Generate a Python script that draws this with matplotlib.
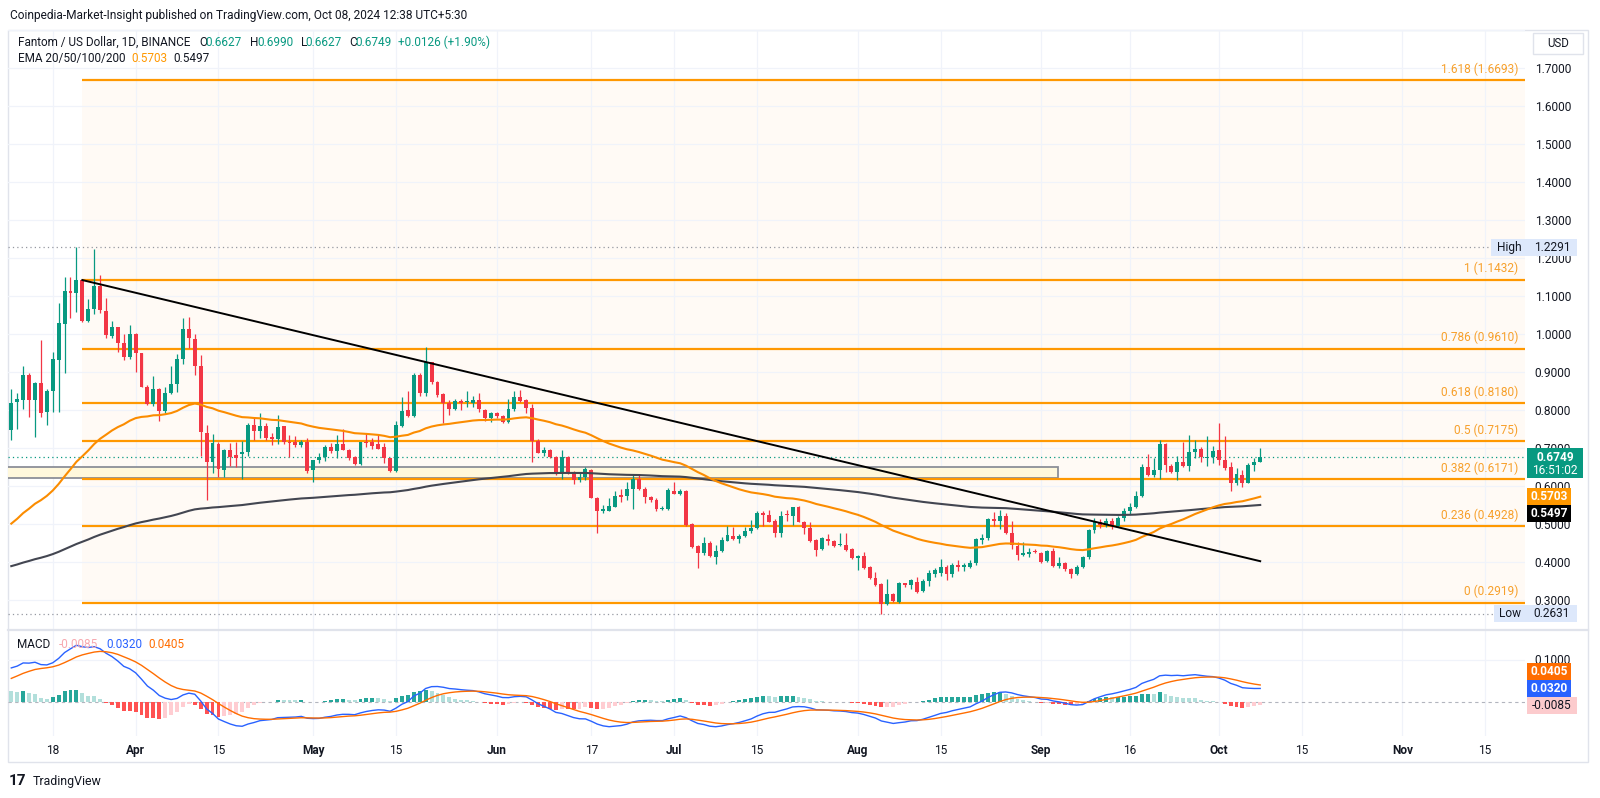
import numpy as np
import pandas as pd
import matplotlib
matplotlib.use("Agg")
import matplotlib.pyplot as plt
from matplotlib.patches import Rectangle
from matplotlib.lines import Line2D
from matplotlib.transforms import Affine2D

plt.rcParams['font.family'] = ['Roboto', 'DejaVu Sans']

# ---------------- data ----------------
start_date = "2024-03-11"
opens = [0.747,0.820,0.826,0.892,0.826,0.871,0.795,0.850,0.931,1.026,
 1.114,1.107,1.142,1.035,1.065,1.126,1.061,0.995,1.017,0.977,
 0.938,1.001,0.949,0.861,0.815,0.854,0.798,0.845,0.868,0.933,
 1.012,0.986,0.915,0.740,0.663,0.710,0.641,0.694,0.682,0.683,
 0.690,0.760,0.744,0.757,0.729,0.722,0.757,0.716,0.716,0.706,
 0.716,0.641,0.669,0.675,0.701,0.692,0.710,0.694,0.676,0.657,
 0.716,0.716,0.710,0.703,0.672,0.640,0.757,0.799,0.784,0.892,
 0.843,0.925,0.874,0.842,0.819,0.802,0.822,0.820,0.819,0.826,
 0.800,0.778,0.791,0.785,0.769,0.802,0.835,0.826,0.804,0.719,
 0.687,0.694,0.675,0.631,0.675,0.637,0.616,0.624,0.641,0.568,
 0.532,0.534,0.545,0.575,0.573,0.590,0.617,0.592,0.569,0.562,
 0.538,0.538,0.587,0.578,0.587,0.499,0.441,0.423,0.450,0.413,
 0.429,0.455,0.467,0.459,0.467,0.481,0.488,0.527,0.523,0.508,
 0.474,0.525,0.520,0.545,0.505,0.488,0.457,0.432,0.459,0.455,
 0.443,0.444,0.432,0.410,0.415,0.385,0.356,0.341,0.288,0.314,
 0.294,0.343,0.338,0.347,0.323,0.350,0.367,0.369,0.385,0.367,
 0.391,0.387,0.387,0.395,0.457,0.461,0.511,0.508,0.520,0.476,
 0.441,0.417,0.420,0.429,0.422,0.402,0.429,0.388,0.397,0.380,
 0.367,0.385,0.411,0.483,0.505,0.497,0.508,0.495,0.515,0.533,
 0.545,0.573,0.650,0.628,0.641,0.710,0.652,0.637,0.663,0.652,
 0.690,0.698,0.672,0.675,0.694,0.668,0.648,0.606,0.628,0.608,
 0.655,0.6627]
highs = [0.854,0.843,0.915,0.898,0.874,0.984,0.854,0.953,1.082,1.151,
 1.151,1.2291,1.144,1.091,1.224,1.155,1.094,1.035,1.019,1.001,
 1.023,1.003,0.951,0.865,0.890,0.857,0.859,0.915,0.947,1.041,
 1.045,1.001,0.944,0.760,0.736,0.716,0.696,0.713,0.716,0.719,
 0.766,0.782,0.791,0.766,0.738,0.786,0.757,0.733,0.731,0.721,
 0.727,0.669,0.687,0.706,0.712,0.734,0.749,0.696,0.678,0.716,
 0.740,0.725,0.734,0.713,0.672,0.771,0.835,0.850,0.898,0.898,
 0.966,0.927,0.876,0.843,0.826,0.828,0.828,0.850,0.836,0.843,
 0.801,0.793,0.795,0.786,0.828,0.850,0.852,0.828,0.815,0.722,
 0.701,0.698,0.677,0.694,0.677,0.640,0.633,0.648,0.643,0.571,
 0.549,0.567,0.587,0.590,0.611,0.628,0.628,0.597,0.573,0.567,
 0.546,0.593,0.611,0.590,0.589,0.502,0.444,0.464,0.453,0.444,
 0.466,0.494,0.490,0.473,0.490,0.510,0.532,0.532,0.536,0.511,
 0.532,0.536,0.545,0.546,0.508,0.503,0.459,0.464,0.473,0.457,
 0.476,0.476,0.435,0.417,0.426,0.388,0.373,0.344,0.353,0.318,
 0.347,0.344,0.353,0.360,0.353,0.378,0.384,0.406,0.392,0.397,
 0.403,0.397,0.403,0.462,0.473,0.514,0.530,0.535,0.528,0.508,
 0.452,0.451,0.436,0.433,0.425,0.430,0.436,0.412,0.400,0.383,
 0.390,0.414,0.486,0.515,0.513,0.515,0.516,0.520,0.540,0.555,
 0.585,0.657,0.684,0.672,0.720,0.713,0.657,0.677,0.716,0.734,
 0.720,0.703,0.731,0.705,0.764,0.731,0.663,0.646,0.641,0.659,
 0.672,0.6990]
lows = [0.720,0.749,0.801,0.782,0.729,0.782,0.760,0.795,0.795,0.898,
 1.041,1.059,1.032,1.032,1.052,1.054,0.988,0.988,0.953,0.931,
 0.933,0.900,0.861,0.813,0.810,0.771,0.792,0.842,0.848,0.922,
 0.962,0.892,0.677,0.562,0.633,0.624,0.624,0.652,0.650,0.617,
 0.677,0.720,0.727,0.720,0.707,0.710,0.710,0.675,0.703,0.703,
 0.634,0.611,0.659,0.666,0.687,0.672,0.694,0.669,0.654,0.654,
 0.703,0.698,0.696,0.659,0.637,0.637,0.754,0.782,0.782,0.836,
 0.836,0.868,0.835,0.764,0.786,0.800,0.800,0.807,0.808,0.795,
 0.771,0.769,0.778,0.766,0.764,0.798,0.821,0.791,0.663,0.685,
 0.678,0.672,0.628,0.617,0.631,0.604,0.611,0.615,0.567,0.474,
 0.527,0.532,0.543,0.558,0.561,0.538,0.589,0.555,0.558,0.534,
 0.536,0.536,0.578,0.575,0.494,0.437,0.382,0.417,0.413,0.394,
 0.426,0.453,0.457,0.450,0.464,0.474,0.485,0.493,0.503,0.466,
 0.464,0.508,0.496,0.503,0.473,0.452,0.415,0.430,0.444,0.439,
 0.441,0.429,0.406,0.379,0.380,0.353,0.336,0.2631,0.286,0.294,
 0.292,0.334,0.327,0.318,0.321,0.336,0.360,0.363,0.352,0.360,
 0.375,0.374,0.382,0.392,0.447,0.457,0.495,0.486,0.473,0.434,
 0.403,0.414,0.412,0.423,0.397,0.400,0.385,0.383,0.376,0.358,
 0.364,0.383,0.408,0.475,0.488,0.490,0.485,0.490,0.508,0.525,
 0.540,0.571,0.626,0.624,0.617,0.635,0.633,0.615,0.650,0.640,
 0.672,0.663,0.652,0.659,0.655,0.641,0.587,0.602,0.596,0.606,
 0.640,0.6627]
closes = [0.819,0.828,0.892,0.826,0.870,0.792,0.850,0.934,1.028,1.114,
 1.107,1.142,1.035,1.065,1.126,1.063,0.997,1.017,0.977,0.938,
 1.001,0.949,0.861,0.815,0.856,0.798,0.845,0.868,0.933,1.012,
 0.988,0.915,0.742,0.662,0.713,0.644,0.694,0.675,0.672,0.689,
 0.760,0.744,0.757,0.727,0.722,0.756,0.716,0.713,0.706,0.716,
 0.640,0.669,0.676,0.701,0.692,0.710,0.694,0.672,0.657,0.716,
 0.712,0.705,0.698,0.672,0.640,0.759,0.798,0.784,0.892,0.843,
 0.925,0.872,0.839,0.817,0.802,0.823,0.817,0.822,0.826,0.801,
 0.778,0.791,0.785,0.769,0.802,0.835,0.824,0.804,0.719,0.687,
 0.694,0.675,0.631,0.675,0.637,0.616,0.624,0.643,0.568,0.534,
 0.538,0.547,0.573,0.571,0.590,0.617,0.590,0.569,0.561,0.538,
 0.540,0.589,0.578,0.587,0.496,0.439,0.423,0.448,0.415,0.429,
 0.457,0.470,0.459,0.467,0.481,0.489,0.527,0.522,0.505,0.474,
 0.520,0.522,0.543,0.505,0.488,0.455,0.430,0.461,0.455,0.441,
 0.446,0.431,0.409,0.415,0.382,0.356,0.338,0.288,0.314,0.297,
 0.343,0.337,0.351,0.321,0.350,0.369,0.378,0.387,0.367,0.391,
 0.387,0.391,0.397,0.459,0.461,0.511,0.508,0.520,0.476,0.444,
 0.417,0.422,0.426,0.425,0.400,0.428,0.388,0.397,0.380,0.367,
 0.385,0.411,0.483,0.505,0.497,0.508,0.495,0.515,0.533,0.545,
 0.573,0.650,0.628,0.641,0.710,0.655,0.637,0.663,0.652,0.690,
 0.698,0.675,0.676,0.692,0.669,0.646,0.606,0.631,0.608,0.655,
 0.6627,0.6749]

tick_dates = ["2024-03-18","2024-04-01","2024-04-15","2024-05-01","2024-05-15",
              "2024-06-01","2024-06-17","2024-07-01","2024-07-15","2024-08-01",
              "2024-08-15","2024-09-01","2024-09-16","2024-10-01","2024-10-15",
              "2024-11-01","2024-11-15"]
tick_labels = ["18","Apr","15","May","15","Jun","17","Jul","15","Aug","15",
               "Sep","16","Oct","15","Nov","15"]
price_ticks = [0.3,0.4,0.5,0.6,0.7,0.8,0.9,1.0,1.1,1.2,1.3,1.4,1.5,1.6,1.7]

fib_low, fib_high = 0.2919, 1.1432
fib_ratios = [0, 0.236, 0.382, 0.5, 0.618, 0.786, 1, 1.618]
fib_start = "2024-03-23"
trend_pts = [("2024-03-23", 1.142), ("2024-10-08", 0.401)]
zone_lo, zone_hi, zone_end = 0.6195, 0.6505, "2024-09-03"
high_val, low_val = 1.2291, 0.2631
last_price, countdown = 0.6749, "16:51:02"
ema50_last, ema200_last = 0.5703, 0.5497
ema50_seed, ema200_seed = 0.500, 0.388
ema12_seed, ema26_seed, signal_seed = 0.70, 0.62, 0.055
macd_hist_last, macd_last, signal_last = -0.0085, 0.0320, 0.0405

# ---------------- helpers ----------------
W, H = 1600, 798
GREEN, RED = "#089981", "#f23645"
TXT, GRID = "#131722", "#f0f3fa"
ORANGE = "#ff9800"

O = np.array(opens); Hh = np.array(highs); L = np.array(lows); C = np.array(closes)
Hh = np.maximum(Hh, np.maximum(O, C)); L = np.minimum(L, np.minimum(O, C))
n = len(C)
idx = np.arange(n)
t0 = pd.Timestamp(start_date)
def di(s):
    return (pd.Timestamp(s) - t0).days

def ema(x, span, seed):
    a = 2.0 / (span + 1)
    out = np.empty(len(x)); out[0] = seed
    for i in range(1, len(x)):
        out[i] = out[i-1] + a * (x[i] - out[i-1])
    return out

ema50 = ema(C, 50, ema50_seed)
ema200 = ema(C, 200, ema200_seed)
macd = ema(C, 12, ema12_seed) - ema(C, 26, ema26_seed)
signal = ema(macd, 9, signal_seed)
hist = macd - signal

fig = plt.figure(figsize=(16, 7.98), dpi=100)
fig.patch.set_facecolor("white")
PX = Affine2D().scale(1.0 / W, -1.0 / H).translate(0, 1) + fig.transFigure
R = fig.canvas.get_renderer()

def axrect(l, t, r, b):
    return [l / W, 1 - b / H, (r - l) / W, (b - t) / H]

X0, DX = 11.3, 5.919
AX_L, AX_R, P_TOP, P_BOT, M_BOT = 8, 1525, 30, 629.5, 736
ax = fig.add_axes(axrect(AX_L, P_TOP, AX_R, P_BOT))
mx = fig.add_axes(axrect(AX_L, P_BOT, AX_R, M_BOT), sharex=ax)
xl = ((AX_L - X0) / DX, (AX_R - X0) / DX)
ax.set_xlim(*xl)
ax.set_ylim(1.6693 - (P_BOT - 80) / 379.4, 1.6693 + (80 - P_TOP) / 379.4)
mx.set_ylim((701.5 - M_BOT) / 420.0, (701.5 - P_BOT) / 420.0)
for a in (ax, mx):
    a.set_facecolor("none")
    for s in a.spines.values():
        s.set_visible(False)

tick_idx = [di(t) for t in tick_dates]
for t in tick_idx:
    ax.axvline(t, color=GRID, lw=0.9, zorder=0.2)
    mx.axvline(t, color=GRID, lw=0.9, zorder=0.2)
for v in price_ticks + [1.8]:
    ax.axhline(v, color=GRID, lw=0.9, zorder=0.2)
mx.axhline(0.1, color=GRID, lw=0.9, zorder=0.2)

# fib shading and levels
fs = di(fib_start)
fib_top = fib_low + fib_ratios[-1] * (fib_high - fib_low)
ax.add_patch(Rectangle((fs, fib_low), xl[1] - fs + 5, fib_top - fib_low,
                       fc=ORANGE, alpha=0.04, lw=0, zorder=0.1))
x_lab = (1518 - X0) / DX
for r in fib_ratios:
    lv = fib_low + r * (fib_high - fib_low)
    ax.hlines(lv, fs, xl[1] + 5, color=ORANGE, lw=1.6, zorder=2.5)
    rs = f"{r:g}"
    ax.annotate(f"{rs} ({lv:.4f})", xy=(x_lab, lv), xytext=(0, 3.2),
                textcoords="offset points", ha="right", va="bottom",
                color="#f7a02b", fontsize=8.6, zorder=6)

# zone box
ax.add_patch(Rectangle((xl[0] - 2, zone_lo), di(zone_end) + 0.8 - xl[0] + 2, zone_hi - zone_lo,
                       fc="#fff8dc", ec="#8c8f98", lw=1.3, zorder=2.2))

# dotted reference lines
ax.axhline(high_val, color="#9598a1", ls=(0, (1, 2.5)), lw=0.9, zorder=2)
ax.axhline(low_val, color="#9598a1", ls=(0, (1, 2.5)), lw=0.9, zorder=2)
ax.axhline(last_price, color=GREEN, ls=(0, (1, 2.5)), lw=0.9, zorder=2)

# candles
up = C >= O
col = np.where(up, GREEN, RED)
ax.vlines(idx, L, Hh, colors=col, lw=0.9, zorder=3)
body = np.maximum(np.abs(C - O), 0.0026)
ax.bar(idx, body, bottom=np.minimum(O, C), width=0.66, color=col, lw=0, zorder=3.1)

# EMAs
ax.plot(idx, ema200, color="#434651", lw=1.5, zorder=4)
ax.plot(idx, ema50, color="#fb8c00", lw=1.5, zorder=4.1)

# trend line
ax.plot([di(trend_pts[0][0]), di(trend_pts[1][0])], [trend_pts[0][1], trend_pts[1][1]],
        color="black", lw=1.4, zorder=5)

# MACD pane
hp = np.r_[hist[0], hist[:-1]]
hcol = np.where(hist >= 0, np.where(hist > hp, "#26a69a", "#b2dfdb"),
                np.where(hist < hp, "#ff5252", "#ffcdd2"))
mx.bar(idx, hist, width=0.66, color=hcol, lw=0, zorder=2)
mx.axhline(0, color="#b2b5be", ls=(0, (3, 3)), lw=0.8, zorder=1.5)
mx.plot(idx, macd, color="#2962ff", lw=1.0, zorder=3)
mx.plot(idx, signal, color="#ff6d00", lw=1.0, zorder=3)

# axes ticks
ax.yaxis.tick_right()
ax.set_yticks(price_ticks)
ax.set_yticklabels([f"{v:.4f}" for v in price_ticks])
ax.tick_params(axis="y", length=0, pad=7, labelsize=8.6, labelcolor=TXT)
ax.tick_params(axis="x", length=0, labelbottom=False)
mx.yaxis.tick_right()
mx.set_yticks([0.1]); mx.set_yticklabels(["0.1000"])
mx.tick_params(axis="y", length=0, pad=7, labelsize=8.6, labelcolor=TXT)
mx.set_xticks(tick_idx)
mx.set_xticklabels(tick_labels)
mx.tick_params(axis="x", length=0, pad=6, labelsize=8.6, labelcolor=TXT)
for lab in mx.get_xticklabels():
    if not lab.get_text().isdigit():
        lab.set_fontweight("bold")
ax.set_xlim(*xl)

# ---------------- figure furniture ----------------
fig.add_artist(Rectangle((8, 30), 1580, 732, transform=PX, fc="none", ec="#e0e3eb", lw=1.0, zorder=0))
fig.add_artist(Line2D([8, 1588], [P_BOT, P_BOT], transform=PX, color="#e0e3eb", lw=1.6, zorder=1))

def ypx(a, v):
    return H - a.transData.transform((0, v))[1]

def put(x, y, s, color=TXT, size=8.6, ha="left", weight="normal", z=7):
    return fig.text(x, y, s, transform=PX, color=color, fontsize=size, ha=ha, va="center",
                    fontweight=weight, zorder=z)

def fit(x, y, s, width, color=TXT, weight="normal"):
    t = put(x, y, s, color=color, size=10, weight=weight)
    w = t.get_window_extent(R).width
    t.set_fontsize(10 * width / w)
    return t.get_fontsize()

def box(x0, x1, yc, h, fc, txt, tc, z=6, size=8.6, weight="normal"):
    fig.add_artist(Rectangle((x0, yc - h / 2), x1 - x0, h, transform=PX, fc=fc, ec=fc, lw=0, zorder=z))
    put((x0 + x1) / 2, yc, txt, color=tc, size=size, ha="center", weight=weight, z=z + 0.5)

fit(10, 15, "Coinpedia-Market-Insight published on TradingView.com, Oct 08, 2024 12:38 UTC+5:30", 458)
s1 = fit(18.3, 42.5, "Fantom / US Dollar, 1D, BINANCE", 173)
for x, s, c in [(199.3, "O", TXT), (205.7, f"{opens[-1]:.4f}", GREEN), (250, "H", TXT),
                (257, f"{highs[-1]:.4f}", GREEN), (300.7, "L", TXT), (305.7, f"{lows[-1]:.4f}", GREEN),
                (349, "C", TXT), (355.7, f"{closes[-1]:.4f}", GREEN), (398.3, "+0.0126 (+1.90%)", GREEN)]:
    put(x, 42.5, s, color=c, size=s1)
put(18.3, 58.5, "EMA 20/50/100/200", size=s1)
put(131, 58.5, f"{ema50_last:.4f}", color="#ff9800", size=s1)
put(173, 58.5, f"{ema200_last:.4f}", size=s1)
put(17, 644, "MACD", size=s1)
put(59, 644, f"{macd_hist_last:.4f}", color="#f7a9b0", size=s1)
put(106, 644, f"{macd_last:.4f}", color="#2962ff", size=s1)
put(148, 644, f"{signal_last:.4f}", color="#ff6d00", size=s1)

# USD box
fig.add_artist(Rectangle((1533, 33), 50, 21, transform=PX, fc="white", ec="#e0e3eb", lw=1.0, zorder=6))
put(1558, 43.5, "USD", ha="center", size=8.3)

# price scale labels
BLUEBG = "#dde8fb"
yh = ypx(ax, high_val)
box(1491, 1527, yh, 17, BLUEBG, "High", TXT)
box(1527, 1577, yh, 17, BLUEBG, f"{high_val:.4f}", TXT)
yl = ypx(ax, low_val)
box(1494, 1527, yl, 17, BLUEBG, "Low", TXT)
box(1527, 1577, yl, 17, BLUEBG, f"{low_val:.4f}", TXT)
yp = ypx(ax, last_price)
fig.add_artist(Rectangle((1527, yp - 9), 56, 30, transform=PX, fc=GREEN, ec=GREEN, lw=0, zorder=6))
put(1555, yp, f"{last_price:.4f}", color="white", ha="center", weight="bold", z=7)
put(1555, yp + 13.5, countdown, color="white", ha="center", z=7)
y50 = max(ypx(ax, ema50_last), yp + 21 + 8.5)
box(1527, 1571, y50, 17, "#ff9800", f"{ema50_last:.4f}", "white", weight="bold")
y200 = max(ypx(ax, ema200_last), y50 + 17)
box(1527, 1571, y200, 17, "#000000", f"{ema200_last:.4f}", "white", weight="bold")

yhst = ypx(mx, macd_hist_last)
yml = min(ypx(mx, macd_last), yhst - 17)
ysg = min(ypx(mx, signal_last), yml - 17)
box(1527, 1577, yhst, 17, "#fccbcd", f"{macd_hist_last:.4f}", TXT)
box(1527, 1571, yml, 17, "#2962ff", f"{macd_last:.4f}", "white", weight="bold")
box(1527, 1571, ysg, 17, "#ff6d00", f"{signal_last:.4f}", "white", weight="bold")

# TradingView logo
put(9, 781, "17", size=11, weight="bold", z=7)
fit(33, 781, "TradingView", 69)

fig.savefig("out.png", dpi=100, facecolor="white")
